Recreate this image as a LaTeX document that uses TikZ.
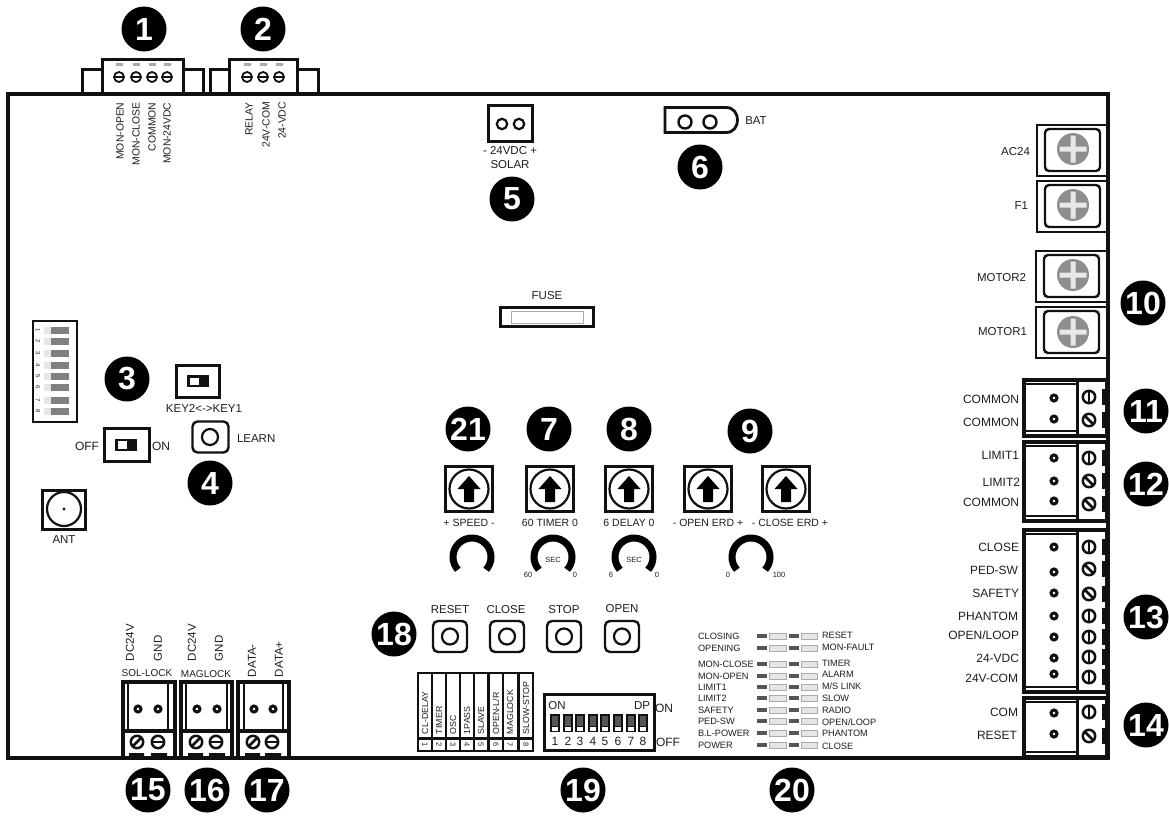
\documentclass[tikz,border=0pt]{standalone}
\usepackage{fontspec}
\setmainfont{Liberation Sans}
\usetikzlibrary{calc}
\definecolor{inkc}{HTML}{111111}
\definecolor{txtc}{HTML}{1E1E1E}
\definecolor{screwc}{HTML}{8E8E8E}
\definecolor{crossc}{HTML}{E8E8E8}
\definecolor{ledd}{HTML}{555555}
\definecolor{ledl}{HTML}{E6E6E6}
\definecolor{ledb}{HTML}{AAAAAA}
\newcounter{lbl}
\tikzset{
  fs/.style={font=\fontsize{#1}{#1}\selectfont},
  lab/.style={inner sep=0pt,outer sep=0pt,text=txtc},
  box/.style={draw=inkc,line width=3pt,fill=white},
  heavy/.style={draw=inkc,line width=3.2pt,fill=white},
  badge/.style={circle,fill=black,text=white,inner sep=0pt,minimum size=45pt,font=\fontsize{32}{32}\selectfont\bfseries},
}
\newcommand{\PLab}[5][]{\stepcounter{lbl}\node[lab,fs=#4,#1] (t\arabic{lbl}) at (#2,#3) {#5};}
\newcommand{\PBadge}[3]{\node[badge] (badge#3) at (#1,#2) {#3};}
\newcommand{\PScrew}[3]{%
  \draw[draw=inkc,line width=2.5pt,fill=white] (#1,#2) circle (6.2pt);
  \draw[draw=inkc,line width=2.8pt] ($(#1,#2)+(#3:6.2pt)$) -- ($(#1,#2)+(#3+180:6.2pt)$);}
\newcommand{\PTopScrew}[2]{%
  \draw[draw=inkc,line width=1.8pt,fill=white] (#1,#2) circle (5pt);
  \draw[draw=inkc,line width=1.8pt] ($(#1,#2)+(0:5pt)$) -- ($(#1,#2)+(180:5pt)$);}
\newcommand{\PHole}[2]{\draw[draw=inkc,line width=3pt,fill=white] (#1,#2) circle (3pt);}
\newcommand{\PRing}[2]{\draw[draw=inkc,line width=2.2pt,fill=white] (#1,#2) circle (5.2pt);}
\newcommand{\PRTerm}[2]{%
  \draw[heavy] (1024,#1) rectangle (1107,#2);
  \draw[draw=inkc,line width=3pt] (1077,#1) -- (1077,#2);
  \draw[draw=inkc,line width=1.1pt] (1024,#1+4) -- (1077,#1+4);
  \draw[draw=inkc,line width=1.1pt] (1024,#2-5) -- (1077,#2-5);}
\newcommand{\PRSc}[2]{\PScrew{1089}{#1}{#2}\fill[inkc] (1101.5,#1-8) rectangle (1107,#1+8);}
\newcommand{\PBTerm}[8]{% x0 x1 thin0 thin1 hole1 hole2 screw1 screw2
  \draw[heavy] (#1,682) rectangle (#2,758);
  \draw[draw=inkc,line width=1.1pt] (#3,682) -- (#3,731) (#4,682) -- (#4,731);
  \draw[draw=inkc,line width=4pt] (#1,731) -- (#2,731);
  \PHole{#5}{709}\PHole{#6}{709}
  \PScrew{#7}{742}{45}\PScrew{#8}{742}{0}
  \fill[inkc] (#7-8,753) rectangle (#7+7,758) (#8-7,753) rectangle (#8+9,758);}
\newcommand{\PBig}[5]{% x0 y0 y1 ix0 screwy
  \draw[draw=inkc,line width=2.8pt,fill=white] (#1,#2) rectangle (1107,#3);
  \draw[draw=inkc,line width=2.4pt,rounded corners=4pt,fill=white] (#4,#2+4) rectangle (#4+55,#3-5);
  \fill[screwc] (1073,#5) circle (16pt);
  \fill[crossc] (1059.5,#5-2.5) rectangle (1086.5,#5+2.5) (1070.5,#5-13.5) rectangle (1075.5,#5+13.5);}
\newcommand{\PBtn}[1]{%
  \draw[draw=inkc,line width=2.4pt,rounded corners=5pt,fill=white] (#1,621) rectangle (#1+34,652);
  \draw[draw=inkc,line width=2.2pt] (#1+17,636.5) circle (8pt);}
\newcommand{\PPot}[1]{%
  \draw[draw=inkc,line width=2.8pt,fill=white] (#1-23.5,466.5) rectangle (#1+23.5,511.5);
  \draw[draw=inkc,line width=2.2pt] (#1,489) circle (19.5pt);
  \fill[black] (#1,476) -- (#1+11.5,489) -- (#1+5,489) -- (#1+5,502) -- (#1-5,502) -- (#1-5,489) -- (#1-11.5,489) -- cycle;}
\newcommand{\PDial}[1]{\draw[draw=black,line width=7pt] ($(#1,557)+(222:19pt)$) arc[start angle=222,end angle=-42,radius=19pt];}
\begin{document}
\begin{tikzpicture}[x=1pt,y=-1pt]
\useasboundingbox (0,0) rectangle (1169,816);
\fill[white] (0,0) rectangle (1169,816);
% board
\draw[draw=inkc,line width=3.5pt] (8,94) rectangle (1108,758);

% connectors 1 and 2
\draw[box] (82,69) rectangle (102,94);
\draw[box] (183,69) rectangle (203,94);
\draw[box] (102,60) rectangle (183,94);
\draw[box] (210,69) rectangle (229,94);
\draw[box] (297,69) rectangle (318,94);
\draw[box] (229,60) rectangle (297,94);
\foreach \xa in {119,136,152,167,247,263,279}{
  \fill[ledb] (\xa-3.5,63) rectangle (\xa+3.5,66);
  \PTopScrew{\xa}{77}
}
\draw[draw=inkc,line width=3.5pt] (8,94) -- (1108,94);
\PBadge{144}{29}{1}
\PBadge{263}{29}{2}
\PLab[rotate=90,anchor=east]{120}{102.5}{10.4}{MON-OPEN}
\PLab[rotate=90,anchor=east]{136}{102.5}{10.4}{MON-CLOSE}
\PLab[rotate=90,anchor=east]{152}{102.5}{10.4}{COMMON}
\PLab[rotate=90,anchor=east]{167}{102.5}{10.4}{MON-24VDC}
\PLab[rotate=90,anchor=east]{249}{102.5}{10.4}{RELAY}
\PLab[rotate=90,anchor=east]{266}{102}{10.4}{24V-COM}
\PLab[rotate=90,anchor=east]{282}{102}{10.4}{24-VDC}

% solar
\draw[box] (488.5,105.5) rectangle (532,141.5);
\PRing{502}{124}\PRing{519}{124}
\PLab{510}{151}{11.5}{- 24VDC +}
\PLab{510}{165}{11.5}{SOLAR}
\PBadge{512}{199}{5}
% battery
\draw[draw=inkc,line width=2.8pt,fill=white] (665,107.5) -- (726,107.5) .. controls (734,107.5) and (737.5,114) .. (737.5,120) .. controls (737.5,126) and (734,132.5) .. (726,132.5) -- (665,132.5) -- cycle;
\draw[draw=inkc,line width=2.4pt] (685,122) circle (6.5pt) (710,122) circle (6.5pt);
\PLab{756}{121}{11.5}{BAT}
\PBadge{700}{167}{6}
% fuse
\PLab{547}{296}{11.5}{FUSE}
\draw[box] (500,307.5) rectangle (593.5,326.5);
\draw[draw=ledb,line width=.8pt] (511,311) rectangle (583,323);

% left dip
\draw[draw=inkc,line width=1.3pt,fill=white] (33,321) rectangle (77,422);
\foreach \ya/\na in {330/1,341/2,353/3,365/4,376/5,387/6,400/7,411/8}{
  \fill[ledl] (44,\ya-3.5) rectangle (51,\ya+3.5);
  \fill[gray] (51,\ya-3.5) rectangle (69,\ya+3.5);
  \PLab[rotate=-90]{38}{\ya}{6}{\na}
}
\PBadge{127}{379}{3}
% key switch
\draw[box] (176.5,365.5) rectangle (219,397);
\fill[inkc] (187,375) rectangle (209,387);
\fill[white] (189.5,377.5) rectangle (199,384.5);
\PLab{204}{408}{11.5}{KEY2<->KEY1}
% off/on switch
\draw[box] (104.5,428.5) rectangle (149,461);
\fill[inkc] (115,438.5) rectangle (137,451);
\fill[white] (117.5,441) rectangle (127,448.5);
\PLab{87}{446}{12}{OFF}
\PLab{161}{446}{12}{ON}
% learn
\draw[draw=inkc,line width=2.4pt,rounded corners=5pt,fill=white] (192.5,421.5) rectangle (228.5,452.5);
\draw[draw=inkc,line width=2.2pt] (210,437) circle (8pt);
\PLab[anchor=west]{237}{439}{11.5}{LEARN}
\PBadge{210}{483}{4}
% ant
\draw[box] (42.5,490) rectangle (85,529);
\draw[draw=inkc,line width=2.2pt] (64,509) circle (17pt);
\fill[inkc] (64,509) circle (1.6pt);
\PLab{64}{540}{11.5}{ANT}

% power terminals
\PBig{1037}{125}{176}{1045}{149}
\PBig{1037}{181}{232}{1045}{205}
\PBig{1036}{251}{302}{1044}{275}
\PBig{1036}{307}{358}{1044}{332}
\PLab[anchor=east]{1030}{152}{11.5}{AC24}
\PLab[anchor=east]{1028}{206}{11.5}{F1}
\PLab[anchor=east]{1026}{278}{11.5}{MOTOR2}
\PLab[anchor=east]{1027}{332}{11.5}{MOTOR1}
\PBadge{1143}{303}{10}

% right signal terminals
\PRTerm{380}{436}
\PRTerm{442}{521}
\PRTerm{530}{692}
\PRTerm{698}{757}
\foreach \ya in {398,419,458,481,501,547,572,593,616,637,658,674,713,734}{\PHole{1054}{\ya}}
\foreach \ya/\aa in {397/90,420/-45,458/90,481/-45,504/-45,547/90,569/-45,594/-45,616/90,637/90,657/90,677/90,712/90,736/-45}{\PRSc{\ya}{\aa}}
\draw[draw=inkc,line width=3.5pt] (1108,94) -- (1108,758);
\PLab[anchor=east]{1019}{399}{12}{COMMON}
\PLab[anchor=east]{1019}{422}{12}{COMMON}
\PLab[anchor=east]{1019}{455}{12}{LIMIT1}
\PLab[anchor=east]{1020}{482}{12}{LIMIT2}
\PLab[anchor=east]{1019}{502}{12}{COMMON}
\PLab[anchor=east]{1019}{547}{12}{CLOSE}
\PLab[anchor=east]{1018}{570}{12}{PED-SW}
\PLab[anchor=east]{1019}{593}{12}{SAFETY}
\PLab[anchor=east]{1018}{616}{12}{PHANTOM}
\PLab[anchor=east]{1019}{635}{12}{OPEN/LOOP}
\PLab[anchor=east]{1019}{658}{12}{24-VDC}
\PLab[anchor=east]{1018}{678}{12}{24V-COM}
\PLab[anchor=east]{1018}{712}{12}{COM}
\PLab[anchor=east]{1017}{735}{12}{RESET}
\PBadge{1146}{411}{11}
\PBadge{1146}{484}{12}
\PBadge{1146}{617}{13}
\PBadge{1146}{725}{14}

% bottom terminals
\PBTerm{123}{175}{128}{168}{138}{158}{137}{158}
\PBTerm{181}{232}{186}{227}{197}{217}{196}{216}
\PBTerm{238}{289}{244}{283}{254}{273}{253}{272}
\PLab[rotate=90,anchor=west]{130}{661}{11.5}{DC24V}
\PLab[rotate=90,anchor=west]{158}{661}{11.5}{GND}
\PLab[rotate=90,anchor=west]{192}{661}{11.5}{DC24V}
\PLab[rotate=90,anchor=west]{219}{661}{11.5}{GND}
\PLab[rotate=90,anchor=west]{252}{677}{11.5}{DATA-}
\PLab[rotate=90,anchor=west]{279}{677}{11.5}{DATA+}
\PLab{147}{673}{10}{SOL-LOCK}
\PLab{206}{674}{10}{MAGLOCK}
\PBadge{148}{790}{15}
\PBadge{207}{790}{16}
\PBadge{267}{790}{17}

% pots
\PBadge{468}{429}{21}
\PBadge{549}{429}{7}
\PBadge{629}{429}{8}
\PBadge{750}{431}{9}
\foreach \xa in {469,550,629,708,786}{\PPot{\xa}}
\PLab{469}{523}{10.5}{+ SPEED -}
\PLab{550}{523}{10.5}{60 TIMER 0}
\PLab{629}{523}{10.5}{6 DELAY 0}
\PLab{708}{523}{10.5}{- OPEN ERD +}
\PLab{790}{523}{10.5}{- CLOSE ERD +}
\foreach \xa in {472,553,634,751}{\PDial{\xa}}
\PLab{553}{560}{7.5}{SEC}
\PLab{634}{560}{7.5}{SEC}
\PLab{528}{575}{7.5}{60}
\PLab{575}{575}{7.5}{0}
\PLab{611}{575}{7.5}{6}
\PLab{657}{575}{7.5}{0}
\PLab{728}{575}{7.5}{0}
\PLab{779}{575}{7.5}{100}

% buttons
\PBadge{394}{634}{18}
\PLab{450}{610}{11.5}{RESET}
\PLab{506}{610}{11.5}{CLOSE}
\PLab{564}{610}{11.5}{STOP}
\PLab{622}{609}{11.5}{OPEN}
\PBtn{433}\PBtn{490}\PBtn{547}\PBtn{605}

% option strip
\fill[inkc] (417,672) rectangle (534,752);
\foreach \xa/\xb in {419/431,433/445,447/459,461/473,475/487,490/502,504/517,520/532}{
  \fill[white] (\xa,674) rectangle (\xb,736.5);
  \fill[white] (\xa,740) rectangle (\xb,749.5);
}
\foreach \xa/\na/\sa in {425/1/CL-DELAY,439/2/TIMER,453/3/OSC,467/4/1PASS,481/5/SLAVE,496/6/{OPEN-L/R},510/7/MAGLOCK,526/8/SLOW-STOP}{
  \PLab[rotate=90,anchor=west]{\xa}{734}{8.8}{\sa}
  \PLab[rotate=-90]{\xa}{745}{7.5}{\na}
}

% dip 19
\draw[box] (544.5,694.5) rectangle (654,750.5);
\PLab{557}{706}{11.5}{ON}
\PLab{642}{706}{11.5}{DP}
\foreach \xa/\na in {555/1,568/2,580/3,593/4,605/5,618/6,631/7,643/8}{
  \fill[inkc] (\xa-5,714) rectangle (\xa+5,732);
  \fill[ledd] (\xa-3,716) rectangle (\xa+3,726);
  \fill[white] (\xa-3,726.5) rectangle (\xa+3,730.5);
  \PLab{\xa}{741}{12}{\na}
}
\PLab{664}{708}{12}{ON}
\PLab{668}{742}{12}{OFF}
\PBadge{583}{790}{19}

% leds
\foreach \ya in {636,648,664,676,687,698,710,721,733,745}{
  \fill[ledd] (757,\ya-2) rectangle (767,\ya+2);
  \draw[draw=ledb,line width=.6pt,fill=ledl] (769,\ya-3) rectangle (786,\ya+3);
  \fill[ledd] (789,\ya-2) rectangle (799,\ya+2);
  \draw[draw=ledb,line width=.6pt,fill=ledl] (801,\ya-3) rectangle (817,\ya+3);
}
\foreach \ya/\sa in {636/CLOSING,648/OPENING,664/MON-CLOSE,676/MON-OPEN,687/LIMIT1,698/LIMIT2,710/SAFETY,721/PED-SW,733/B.L-POWER,745/POWER}{
  \PLab[anchor=west]{698}{\ya}{9.2}{\sa}
}
\foreach \ya/\sa in {635/RESET,647/MON-FAULT,663/TIMER,674/ALARM,686/{M/S LINK},698/SLOW,710/RADIO,722/{OPEN/LOOP},733/PHANTOM,746/CLOSE}{
  \PLab[anchor=west]{822}{\ya}{9.2}{\sa}
}
\PBadge{792}{790}{20}
\end{tikzpicture}
\end{document}
